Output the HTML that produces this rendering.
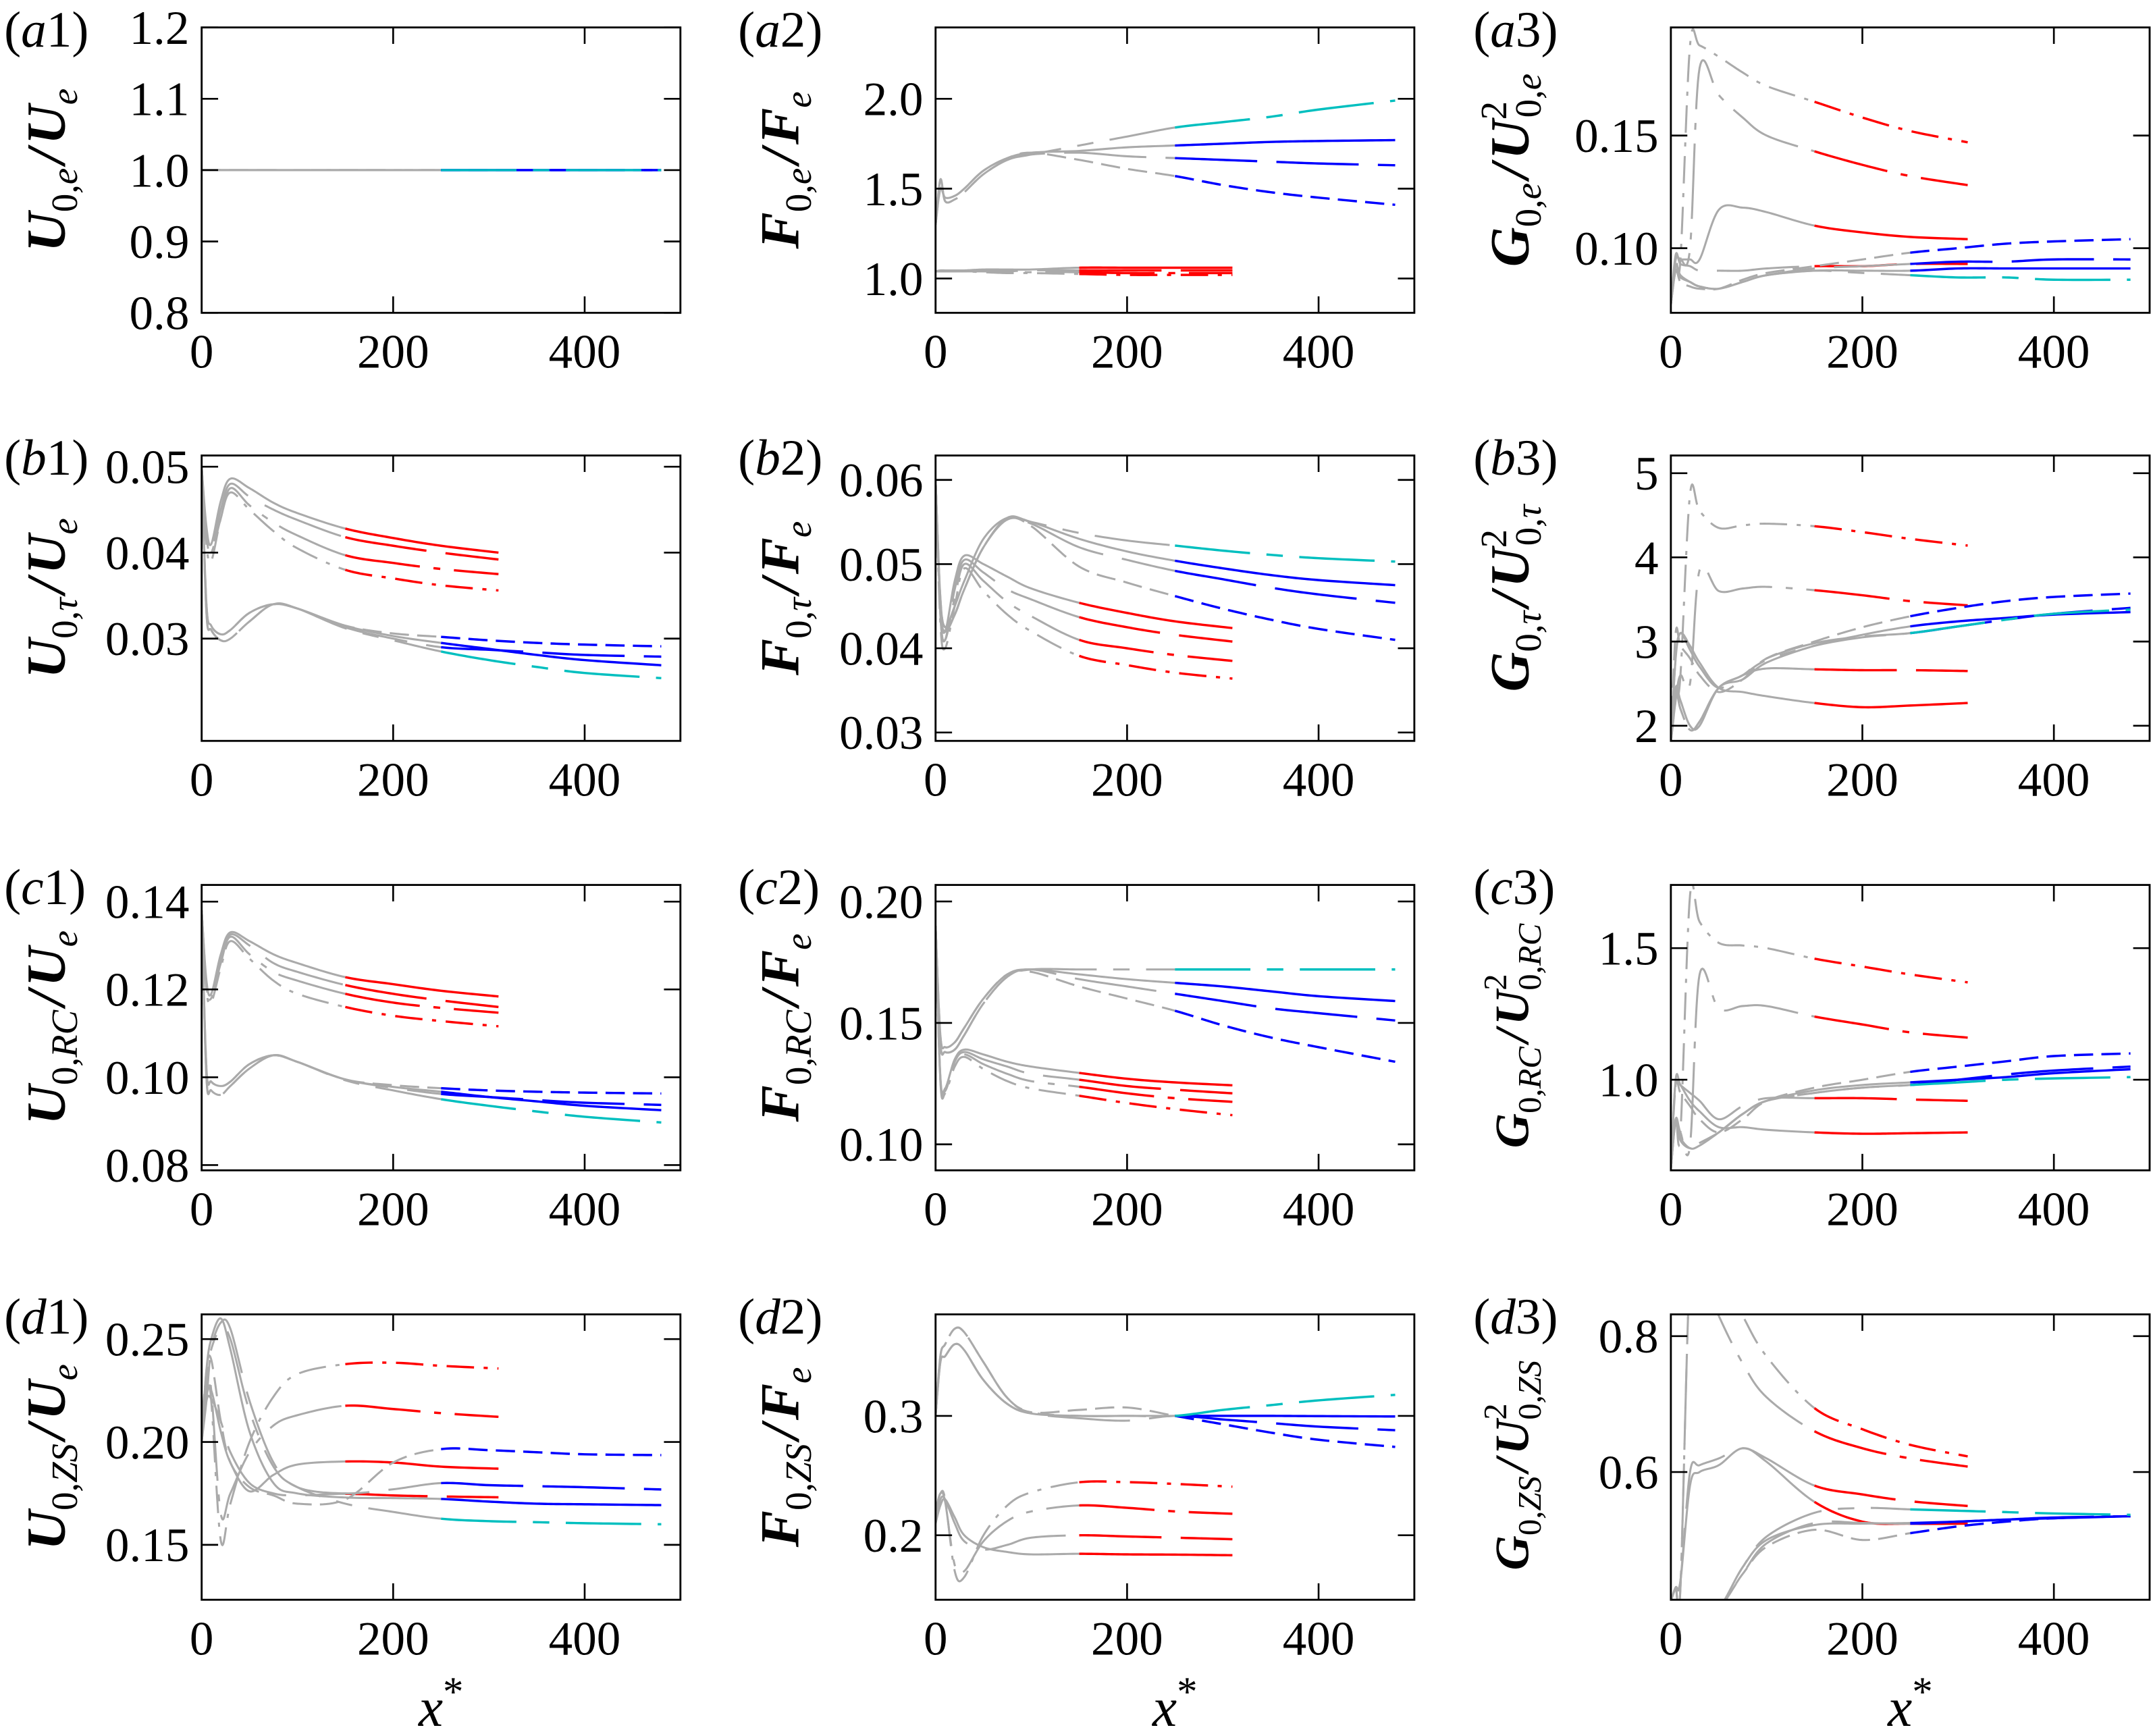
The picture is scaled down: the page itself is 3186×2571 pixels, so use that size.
<!DOCTYPE html>
<html><head><meta charset="utf-8"><style>
html,body{margin:0;padding:0;background:#fff;}
svg{display:block;}
text{font-family:"Liberation Serif",serif;}
</style></head><body>
<svg id="fig" xmlns="http://www.w3.org/2000/svg" width="3186" height="2571" viewBox="0 0 1568 1265.3" preserveAspectRatio="none"></svg>
<script>
// x sample positions (x*)
const xRed = [0,5,10,20,30,50,75,100,150,200,250,310];
const xBlue = [0,5,10,20,30,50,75,100,150,200,250,300,350,400,480];
const xTicks = [0,200,400];

// Panel a1 (only the blue group is visible)
const a1_R = [];
const a1_B = [[1,1,1,1,1,1,1,1,1,1,1,1,1,1,1],[1,1,1,1,1,1,1,1,1,1,1,1,1,1,1],[1,1,1,1,1,1,1,1,1,1,1,1,1,1,1],[1,1,1,1,1,1,1,1,1,1,1,1,1,1,1]];
const a1_ticks = [0.8,0.9,1.0,1.1,1.2];
// Panel a2
const a2_R = [[1.04,1.045,1.045,1.045,1.045,1.05,1.05,1.05,1.06,1.06,1.06,1.06],[1.04,1.04,1.04,1.04,1.04,1.04,1.04,1.045,1.045,1.045,1.045,1.045],[1.04,1.04,1.04,1.04,1.04,1.04,1.035,1.035,1.035,1.03,1.03,1.03],[1.04,1.04,1.04,1.04,1.04,1.035,1.03,1.03,1.025,1.02,1.02,1.02]];
const a2_B = [[1.3,1.5,1.45,1.46,1.50,1.60,1.67,1.70,1.71,1.73,1.74,1.75,1.76,1.765,1.77],[1.3,1.55,1.43,1.44,1.48,1.58,1.66,1.69,1.70,1.68,1.67,1.66,1.65,1.64,1.63],[1.3,1.5,1.45,1.46,1.50,1.60,1.67,1.70,1.66,1.61,1.57,1.52,1.48,1.45,1.41],[1.3,1.55,1.43,1.44,1.48,1.58,1.66,1.69,1.74,1.79,1.84,1.87,1.90,1.94,1.99]];
const a2_ticks = [1.0,1.5,2.0];
// Panel a3
const a3_R = [[0.075,0.095,0.095,0.095,0.095,0.117,0.118,0.116,0.110,0.107,0.105,0.104],[0.075,0.097,0.093,0.092,0.090,0.090,0.090,0.091,0.092,0.092,0.093,0.093],[0.075,0.095,0.095,0.10,0.18,0.168,0.158,0.150,0.143,0.137,0.132,0.128],[0.075,0.095,0.095,0.19,0.19,0.185,0.178,0.172,0.165,0.158,0.152,0.147]];
const a3_B = [[0.075,0.092,0.088,0.085,0.083,0.082,0.085,0.088,0.090,0.090,0.090,0.091,0.091,0.091,0.091],[0.075,0.09,0.087,0.085,0.083,0.082,0.085,0.088,0.091,0.092,0.093,0.094,0.094,0.095,0.095],[0.075,0.09,0.085,0.083,0.082,0.082,0.086,0.089,0.092,0.095,0.098,0.100,0.102,0.103,0.104],[0.075,0.09,0.087,0.085,0.083,0.082,0.085,0.088,0.090,0.089,0.088,0.087,0.087,0.086,0.086]];
const a3_ticks = [0.10,0.15];
// Panel b1
const b1_R = [[0.050,0.043,0.041,0.046,0.0486,0.0475,0.0458,0.0446,0.0428,0.0417,0.0408,0.0400],[0.050,0.042,0.040,0.045,0.0480,0.0465,0.0450,0.0438,0.0418,0.0408,0.0400,0.0392],[0.050,0.042,0.040,0.044,0.0475,0.0455,0.0435,0.0420,0.0397,0.0388,0.0381,0.0375],[0.050,0.041,0.039,0.044,0.0470,0.0450,0.0425,0.0405,0.0380,0.0370,0.0362,0.0356]];
const b1_B = [[0.050,0.034,0.0315,0.0305,0.031,0.033,0.034,0.0335,0.0315,0.0303,0.0295,0.0288,0.0281,0.0275,0.0269],[0.050,0.033,0.031,0.0298,0.030,0.032,0.034,0.0335,0.0313,0.0300,0.0290,0.0287,0.0284,0.0281,0.0279],[0.050,0.034,0.0315,0.0305,0.031,0.033,0.034,0.0335,0.0315,0.0306,0.0302,0.0298,0.0295,0.0293,0.0291],[0.050,0.033,0.031,0.0298,0.030,0.032,0.034,0.0335,0.0312,0.0298,0.0285,0.0275,0.0267,0.0260,0.0254]];
const b1_ticks = [0.03,0.04,0.05];
// Panel b2
const b2_R = [[0.060,0.045,0.042,0.048,0.051,0.050,0.0485,0.0471,0.0454,0.0442,0.0432,0.0424],[0.060,0.044,0.041,0.047,0.0505,0.049,0.047,0.0458,0.0437,0.0425,0.0416,0.0408],[0.060,0.044,0.041,0.046,0.050,0.048,0.0455,0.0438,0.0410,0.0400,0.0392,0.0385],[0.060,0.043,0.040,0.045,0.0495,0.0468,0.0440,0.0420,0.0391,0.0380,0.0371,0.0364]];
const b2_B = [[0.060,0.046,0.0425,0.045,0.048,0.053,0.0555,0.0550,0.0530,0.0515,0.0504,0.0495,0.0487,0.0481,0.0475],[0.060,0.045,0.042,0.044,0.047,0.052,0.0553,0.0548,0.0520,0.0505,0.0492,0.0482,0.0472,0.0464,0.0454],[0.060,0.046,0.0425,0.044,0.047,0.052,0.0553,0.0545,0.0497,0.0478,0.0462,0.0447,0.0434,0.0423,0.0410],[0.060,0.045,0.042,0.044,0.047,0.052,0.0555,0.0550,0.0537,0.0528,0.0522,0.0516,0.0511,0.0507,0.0503]];
const b2_ticks = [0.03,0.04,0.05,0.06];
// Panel b3
const b3_R = [[1.8,2.8,3.1,2.95,2.75,2.45,2.40,2.35,2.27,2.22,2.24,2.27],[1.8,2.8,3.1,2.9,2.7,2.45,2.6,2.68,2.67,2.66,2.66,2.65],[1.8,2.3,2.6,2.5,3.85,3.60,3.63,3.65,3.61,3.55,3.48,3.43],[1.8,2.3,2.6,4.75,4.55,4.35,4.38,4.40,4.37,4.30,4.22,4.14]];
const b3_B = [[1.8,2.45,2.3,2.0,2.0,2.45,2.55,2.75,2.95,3.08,3.18,3.24,3.28,3.32,3.35],[1.8,2.4,2.2,1.95,2.05,2.45,2.6,2.8,2.98,3.06,3.10,3.18,3.26,3.33,3.40],[1.8,3.1,2.95,2.8,2.6,2.4,2.55,2.8,3.0,3.17,3.30,3.40,3.48,3.53,3.57],[1.8,2.4,2.2,1.95,2.05,2.45,2.6,2.78,2.95,3.05,3.10,3.18,3.26,3.33,3.38]];
const b3_ticks = [2,3,4,5];
// Panel c1
const c1_R = [[0.138,0.122,0.119,0.128,0.133,0.131,0.128,0.126,0.1228,0.1212,0.1197,0.1184],[0.138,0.121,0.118,0.127,0.1325,0.130,0.126,0.124,0.121,0.119,0.1175,0.116],[0.138,0.121,0.118,0.126,0.132,0.128,0.124,0.122,0.119,0.117,0.1158,0.1147],[0.138,0.120,0.117,0.125,0.131,0.127,0.122,0.119,0.116,0.114,0.1128,0.1116]];
const c1_B = [[0.138,0.102,0.099,0.098,0.099,0.103,0.105,0.1035,0.0995,0.0978,0.0967,0.0955,0.0945,0.0935,0.0925],[0.138,0.100,0.097,0.096,0.098,0.102,0.105,0.1035,0.0995,0.0976,0.0962,0.0955,0.0948,0.0942,0.0937],[0.138,0.102,0.099,0.098,0.099,0.103,0.105,0.1035,0.0995,0.0982,0.0975,0.0970,0.0967,0.0965,0.0963],[0.138,0.100,0.097,0.096,0.098,0.102,0.105,0.1035,0.0993,0.0970,0.0950,0.0935,0.0922,0.0910,0.0897]];
const c1_ticks = [0.08,0.10,0.12,0.14];
// Panel c2
const c2_R = [[0.19,0.128,0.123,0.135,0.139,0.137,0.134,0.132,0.1294,0.127,0.1255,0.1243],[0.19,0.127,0.122,0.134,0.138,0.135,0.132,0.129,0.1266,0.124,0.1225,0.121],[0.19,0.127,0.122,0.133,0.137,0.133,0.129,0.126,0.1237,0.121,0.119,0.1175],[0.19,0.126,0.121,0.132,0.136,0.131,0.126,0.123,0.120,0.117,0.1145,0.112]];
const c2_B = [[0.19,0.145,0.140,0.142,0.148,0.160,0.170,0.172,0.170,0.168,0.1665,0.165,0.163,0.161,0.159],[0.19,0.142,0.138,0.139,0.145,0.158,0.169,0.172,0.168,0.165,0.162,0.159,0.156,0.154,0.151],[0.19,0.145,0.140,0.142,0.148,0.160,0.170,0.171,0.165,0.160,0.155,0.149,0.144,0.140,0.134],[0.19,0.142,0.138,0.139,0.145,0.158,0.169,0.172,0.172,0.172,0.172,0.172,0.172,0.172,0.172]];
const c2_ticks = [0.10,0.15,0.20];
// Panel c3
const c3_R = [[0.66,1.0,0.98,0.92,0.88,0.82,0.82,0.81,0.80,0.795,0.797,0.80],[0.66,1.0,0.98,0.95,0.92,0.85,0.90,0.93,0.93,0.93,0.925,0.92],[0.66,0.85,0.80,0.75,1.40,1.27,1.28,1.28,1.24,1.21,1.18,1.16],[0.66,0.85,0.80,1.70,1.60,1.52,1.51,1.50,1.46,1.43,1.40,1.37]];
const c3_B = [[0.66,0.85,0.78,0.74,0.75,0.80,0.87,0.92,0.96,0.98,0.99,1.00,1.01,1.025,1.04],[0.66,0.84,0.77,0.74,0.76,0.80,0.87,0.92,0.95,0.97,0.98,1.00,1.02,1.035,1.05],[0.66,0.98,0.95,0.90,0.85,0.80,0.85,0.92,0.97,1.00,1.03,1.05,1.07,1.09,1.10],[0.66,0.84,0.77,0.74,0.76,0.80,0.87,0.92,0.95,0.97,0.98,0.99,1.00,1.005,1.01]];
const c3_ticks = [1.0,1.5];
// Panel d1
const d1_R = [[0.20,0.222,0.225,0.205,0.19,0.176,0.184,0.189,0.1905,0.190,0.188,0.187],[0.20,0.22,0.221,0.21,0.195,0.18,0.175,0.174,0.1748,0.174,0.1735,0.1731],[0.20,0.233,0.225,0.165,0.175,0.195,0.208,0.213,0.2176,0.216,0.214,0.2122],[0.21,0.23,0.22,0.152,0.17,0.20,0.222,0.233,0.2378,0.2385,0.237,0.2357]];
const d1_B = [[0.20,0.235,0.25,0.26,0.245,0.205,0.18,0.175,0.173,0.1727,0.1723,0.171,0.170,0.1697,0.1693],[0.20,0.22,0.245,0.258,0.255,0.22,0.19,0.178,0.175,0.177,0.180,0.179,0.1785,0.178,0.1769],[0.20,0.235,0.24,0.21,0.19,0.178,0.174,0.170,0.172,0.190,0.1965,0.1960,0.195,0.194,0.1936],[0.20,0.23,0.245,0.255,0.25,0.215,0.188,0.178,0.170,0.166,0.1627,0.1615,0.161,0.1605,0.160]];
const d1_ticks = [0.15,0.20,0.25];
// Panel d2
const d2_R = [[0.21,0.225,0.23,0.215,0.20,0.19,0.186,0.184,0.1845,0.184,0.1838,0.1833],[0.21,0.23,0.23,0.21,0.195,0.188,0.192,0.198,0.200,0.199,0.198,0.1967],[0.22,0.235,0.228,0.175,0.17,0.195,0.212,0.220,0.225,0.223,0.220,0.218],[0.22,0.235,0.23,0.17,0.165,0.20,0.225,0.236,0.2444,0.2445,0.243,0.2407]];
const d2_B = [[0.30,0.345,0.35,0.36,0.355,0.33,0.31,0.302,0.300,0.300,0.300,0.300,0.300,0.2998,0.2995],[0.30,0.345,0.35,0.36,0.355,0.33,0.31,0.302,0.298,0.296,0.300,0.297,0.294,0.291,0.288],[0.30,0.35,0.36,0.373,0.37,0.345,0.315,0.303,0.305,0.307,0.300,0.293,0.286,0.280,0.274],[0.30,0.35,0.36,0.373,0.37,0.345,0.315,0.303,0.300,0.300,0.300,0.305,0.309,0.313,0.3176]];
const d2_ticks = [0.2,0.3];
// Panel d3
const d3_R = [[0.41,0.43,0.44,0.58,0.60,0.61,0.635,0.615,0.556,0.527,0.524,0.524],[0.41,0.43,0.44,0.60,0.61,0.62,0.635,0.62,0.58,0.567,0.557,0.55],[0.41,0.43,0.43,0.9,0.9,0.83,0.76,0.71,0.66,0.635,0.62,0.608],[0.41,0.43,0.43,0.9,0.9,0.9,0.83,0.77,0.694,0.663,0.64,0.623]];
const d3_B = [[0.41,0.40,0.40,0.40,0.40,0.40,0.46,0.50,0.522,0.524,0.525,0.527,0.530,0.532,0.535],[0.41,0.40,0.40,0.40,0.40,0.40,0.45,0.495,0.525,0.525,0.524,0.527,0.530,0.533,0.535],[0.41,0.40,0.40,0.40,0.40,0.40,0.45,0.49,0.515,0.500,0.51,0.520,0.527,0.532,0.535],[0.41,0.40,0.40,0.40,0.40,0.40,0.46,0.505,0.540,0.547,0.545,0.543,0.541,0.539,0.537]];
const d3_ticks = [0.6,0.8];

const NS = "http://www.w3.org/2000/svg";
const svg = document.getElementById('fig');
const colL = [147, 682, 1218], rowT = [20, 332, 645, 958], PW = 349, PH = 208, XMAX = 500;
const redSwitch = 150, blueSwitch = 250;
const redDash = ["", "60 14", "55 10 5 10", "20 7 3 7"];
const blueDash = ["", "60 14", "14 6", "55 12 12 12"];
const blueCols = ["#0000ff", "#0000ff", "#0000ff", "#00bfbf"];

const panels = [
 {id:'a1', R:a1_R, B:a1_B, t:a1_ticks, lo:0.8, hi:1.2, dec:1, q:'U', sub:'0,e', den:'U', dsub:'e', sq:false},
 {id:'a2', R:a2_R, B:a2_B, t:a2_ticks, lo:0.809, hi:2.397, dec:1, q:'F', sub:'0,e', den:'F', dsub:'e', sq:false},
 {id:'a3', R:a3_R, B:a3_B, t:a3_ticks, lo:0.0713, hi:0.198, dec:2, q:'G', sub:'0,e', den:'U', dsub:'0,e', sq:true},
 {id:'b1', R:b1_R, B:b1_B, t:b1_ticks, lo:0.0181, hi:0.0513, dec:2, q:'U', sub:'0,τ', den:'U', dsub:'e', sq:false},
 {id:'b2', R:b2_R, B:b2_B, t:b2_ticks, lo:0.029, hi:0.0629, dec:2, q:'F', sub:'0,τ', den:'F', dsub:'e', sq:false},
 {id:'b3', R:b3_R, B:b3_B, t:b3_ticks, lo:1.82, hi:5.21, dec:0, q:'G', sub:'0,τ', den:'U', dsub:'0,τ', sq:true},
 {id:'c1', R:c1_R, B:c1_B, t:c1_ticks, lo:0.0788, hi:0.1438, dec:2, q:'U', sub:'0,RC', den:'U', dsub:'e', sq:false},
 {id:'c2', R:c2_R, B:c2_B, t:c2_ticks, lo:0.0893, hi:0.2068, dec:2, q:'F', sub:'0,RC', den:'F', dsub:'e', sq:false},
 {id:'c3', R:c3_R, B:c3_B, t:c3_ticks, lo:0.656, hi:1.74, dec:1, q:'G', sub:'0,RC', den:'U', dsub:'0,RC', sq:true},
 {id:'d1', R:d1_R, B:d1_B, t:d1_ticks, lo:0.1233, hi:0.262, dec:2, q:'U', sub:'0,ZS', den:'U', dsub:'e', sq:false},
 {id:'d2', R:d2_R, B:d2_B, t:d2_ticks, lo:0.146, hi:0.385, dec:1, q:'F', sub:'0,ZS', den:'F', dsub:'e', sq:false},
 {id:'d3', R:d3_R, B:d3_B, t:d3_ticks, lo:0.412, hi:0.832, dec:1, q:'G', sub:'0,ZS', den:'U', dsub:'0,ZS', sq:true}
];

function mk(tag, attrs, parent){
  const e = document.createElementNS(NS, tag);
  for (const k in attrs) e.setAttribute(k, attrs[k]);
  (parent||svg).appendChild(e);
  return e;
}
function sample(xs, ys){
  const pts = [];
  const n = xs.length;
  for (let i=0;i<n-1;i++){
    const x0=xs[Math.max(i-1,0)], y0=ys[Math.max(i-1,0)];
    const x1=xs[i], y1=ys[i], x2=xs[i+1], y2=ys[i+1];
    const x3=xs[Math.min(i+2,n-1)], y3=ys[Math.min(i+2,n-1)];
    for (let k=0;k<16;k++){
      const t=k/16, t2=t*t, t3=t2*t;
      const f=(a,b,c,d)=>0.5*((2*b)+(-a+c)*t+(2*a-5*b+4*c-d)*t2+(-a+3*b-3*c+d)*t3);
      let xv=f(x0,x1,x2,x3);
      xv=Math.max(x1,Math.min(x2,xv));
      pts.push([xv,f(y0,y1,y2,y3)]);
    }
  }
  pts.push([xs[n-1],ys[n-1]]);
  return pts;
}

panels.forEach((p, idx) => {
  const col = idx % 3, row = Math.floor(idx/3);
  const L = colL[col], T = rowT[row];
  const sx = v => L + v/XMAX*PW;
  const sy = v => T + PH - (v - p.lo)/(p.hi - p.lo)*PH;
  const g = mk('g', {});
  
  
  const cp = mk('clipPath', {id:'clip-'+p.id}, g);
  mk('rect', {x:L, y:T, width:PW, height:PH}, cp);
  const lines = mk('g', {'clip-path':'url(#clip-'+p.id+')'}, g);
  
  

  function drawSeries(xs, ys, sw, color, dash, name){
    const pts = sample(xs, ys);
    const gray = pts.filter(q => q[0] <= sw);
    const colr = pts.filter(q => q[0] >= sw);
    const toD = arr => arr.map((q,i)=>(i?'L':'M')+sx(q[0]).toFixed(2)+' '+sy(q[1]).toFixed(2)).join(' ');
    const a = mk('path', {d:toD(gray), fill:'none', stroke:'#aaaaaa', 'stroke-width':1.5, 'stroke-dasharray':dash||'none'}, lines);
    
    
    const b = mk('path', {d:toD(colr), fill:'none', stroke:color, 'stroke-width':1.7, 'stroke-dasharray':dash||'none'}, lines);
    
    
  }
  p.R.forEach((ys,i)=>drawSeries(xRed, ys, redSwitch, '#ff0000', redDash[i], p.id+'-red-series-'+(i+1)));
  p.B.forEach((ys,i)=>drawSeries(xBlue, ys, blueSwitch, blueCols[i], blueDash[i], p.id+'-blue-series-'+(i+1)));

  const fr = mk('rect', {x:L, y:T, width:PW, height:PH, fill:'none', stroke:'#000', 'stroke-width':1.4}, g);
  
  
  xTicks.forEach(v => {
    const X = sx(v);
    if (v>0 && v<XMAX){
      mk('line', {x1:X, y1:T, x2:X, y2:T+12, stroke:'#000', 'stroke-width':1.3}, g);
      mk('line', {x1:X, y1:T+PH, x2:X, y2:T+PH-12, stroke:'#000', 'stroke-width':1.3}, g);
    }
    const tx = mk('text', {x:X, y:T+PH+40, 'font-size':35, 'text-anchor':'middle'}, g);
    tx.textContent = v;
    
    
  });
  p.t.forEach(v => {
    const Y = sy(v);
    mk('line', {x1:L, y1:Y, x2:L+12, y2:Y, stroke:'#000', 'stroke-width':1.3}, g);
    mk('line', {x1:L+PW, y1:Y, x2:L+PW-12, y2:Y, stroke:'#000', 'stroke-width':1.3}, g);
    const ty = mk('text', {x:L-9, y:Y+12, 'font-size':35, 'text-anchor':'end'}, g);
    ty.textContent = v.toFixed(p.dec);
    
    
  });
  const pl = mk('text', {x:L-144, y:T+14, 'font-size':37}, g);
  
  
  pl.innerHTML = '(<tspan font-style="italic">' + p.id[0] + '</tspan>' + p.id[1] + ')';
  const longT = p.sq && p.dsub.length > 3;
  const fs = longT ? 35 : 40, ss = longT ? 24 : 27;
  const cx = L - 100 - (p.sq ? 4 : 0), cy = T + PH/2 + (longT ? 6 : 0);
  const yt = mk('text', {x:0, y:0, 'font-size':fs, 'font-weight':'bold', 'font-style':'italic', 'text-anchor':'middle', transform:'translate('+cx+','+cy+') rotate(-90)'}, g);
  
  
  const subFmt = s => s.replace(/0/, '<tspan font-style="normal" font-weight="normal">0</tspan>');
  let h = p.q + '<tspan font-size="'+ss+'" dy="9" font-weight="normal">' + subFmt(p.sub) + '</tspan><tspan dy="-9" dx="3">/</tspan><tspan dx="3">' + p.den + '</tspan>';
  if (p.sq) h += '<tspan font-size="'+ss+'" dy="-16" font-style="normal" font-weight="normal">2</tspan><tspan font-size="'+ss+'" dx="-12" dy="25" font-weight="normal">' + subFmt(p.dsub) + '</tspan>';
  else h += '<tspan font-size="'+ss+'" dy="9" font-weight="normal">' + p.dsub + '</tspan>';
  yt.innerHTML = h;
  if (row === 3){
    const xt = mk('text', {x:L+PW/2, y:1258, 'font-size':40, 'font-style':'italic', 'text-anchor':'middle'}, g);
    
    
    xt.innerHTML = 'x<tspan dy="-15" font-size="30" font-style="normal">*</tspan>';
  }
});
</script>
</body></html>
